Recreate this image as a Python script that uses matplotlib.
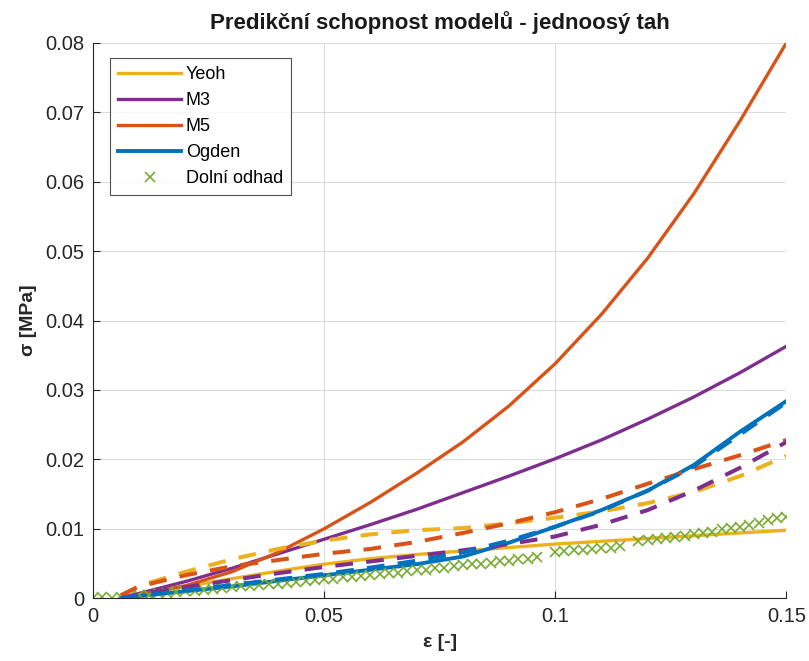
import matplotlib.pyplot as plt

plt.rcParams['font.family'] = ['Liberation Sans', 'DejaVu Sans']

# model curves, strain [-] vs stress [MPa]
eps = [0.006, 0.01, 0.02, 0.03, 0.04, 0.05, 0.06, 0.07, 0.08,
       0.09, 0.10, 0.11, 0.12, 0.13, 0.14, 0.15]

yeoh = [0, 0.0006, 0.0017, 0.0028, 0.0039, 0.0049, 0.0057, 0.0063, 0.0068,
        0.0073, 0.0078, 0.0082, 0.0086, 0.0090, 0.0094, 0.0098]
m3 = [0, 0.0007, 0.0024, 0.0043, 0.0064, 0.0085, 0.0106, 0.0128, 0.0152,
      0.0176, 0.0201, 0.0228, 0.0258, 0.0290, 0.0325, 0.0363]
m5 = [0, 0.0005, 0.0018, 0.0038, 0.0066, 0.0100, 0.0138, 0.0180, 0.0225,
      0.0277, 0.0338, 0.0409, 0.0490, 0.0583, 0.0688, 0.0800]
ogden = [0, 0.0003, 0.0010, 0.0017, 0.0025, 0.0033, 0.0041, 0.0049, 0.0060,
         0.0080, 0.0103, 0.0127, 0.0155, 0.0192, 0.0240, 0.0284]

# dashed = second parameter set
yeoh_d = [0.0004, 0.0018, 0.0038, 0.0056, 0.0071, 0.0083, 0.0092, 0.0098, 0.0101,
          0.0108, 0.0116, 0.0125, 0.0137, 0.0153, 0.0176, 0.0205]
m3_d = [0, 0.0006, 0.0016, 0.0026, 0.0036, 0.0045, 0.0053, 0.0061, 0.0069,
        0.0078, 0.0089, 0.0106, 0.0127, 0.0155, 0.0188, 0.0225]
m5_d = [0.0004, 0.0017, 0.0033, 0.0046, 0.0055, 0.0064, 0.0071, 0.0081, 0.0094,
        0.0108, 0.0124, 0.0143, 0.0165, 0.0186, 0.0206, 0.0228]
ogden_d = [0, 0.0003, 0.0011, 0.0019, 0.0027, 0.0035, 0.0044, 0.0054, 0.0066,
           0.0083, 0.0103, 0.0126, 0.0155, 0.0190, 0.0236, 0.0282]

# lower estimate (measured points)
est_x = [0.000, 0.002, 0.004, 0.006, 0.008, 0.010, 0.012, 0.014, 0.016, 0.018,
         0.020, 0.022, 0.024, 0.026, 0.028, 0.030, 0.032, 0.034, 0.036, 0.038,
         0.040, 0.042, 0.044, 0.046, 0.048, 0.050, 0.052, 0.054, 0.056, 0.058,
         0.060, 0.062, 0.064, 0.066, 0.068, 0.070, 0.072, 0.074, 0.076, 0.078,
         0.080, 0.082, 0.084, 0.086, 0.088, 0.090, 0.092, 0.094, 0.096,
         0.100, 0.102, 0.104, 0.106, 0.108, 0.110, 0.112, 0.114,
         0.118, 0.120, 0.122, 0.124, 0.126, 0.128, 0.130, 0.132, 0.134, 0.136,
         0.138, 0.140, 0.142, 0.144, 0.146, 0.148, 0.150]
est_y = [0.0000, 0.0002, 0.0001, 0.0002, 0.0003, 0.0004, 0.0005, 0.0007, 0.0007, 0.0009,
         0.0010, 0.0011, 0.0012, 0.0013, 0.0015, 0.0016, 0.0017, 0.0018, 0.0019, 0.0020,
         0.0021, 0.0022, 0.0024, 0.0025, 0.0026, 0.0027, 0.0028, 0.0030, 0.0031, 0.0032,
         0.0033, 0.0035, 0.0036, 0.0037, 0.0039, 0.0040, 0.0041, 0.0043, 0.0044, 0.0046,
         0.0048, 0.0049, 0.0050, 0.0051, 0.0053, 0.0054, 0.0056, 0.0057, 0.0059,
         0.0066, 0.0068, 0.0069, 0.0070, 0.0071, 0.0072, 0.0073, 0.0075,
         0.0082, 0.0084, 0.0086, 0.0087, 0.0088, 0.0090, 0.0092, 0.0094, 0.0096, 0.0099,
         0.0101, 0.0103, 0.0106, 0.0109, 0.0112, 0.0115, 0.0117]

c_yeoh = '#EDB120'
c_m3 = '#7E2F8E'
c_m5 = '#D95319'
c_ogden = '#0072BD'
c_est = '#77AC30'

fig = plt.figure(figsize=(8.09, 6.61), dpi=100)
ax = fig.add_axes([0.115, 0.095, 0.857, 0.84])

lw = 2.4
dash = (0, (4.4, 3.3))
ax.plot(eps, yeoh, color=c_yeoh, lw=lw, label='Yeoh')
ax.plot(eps, m3, color=c_m3, lw=lw, label='M3')
ax.plot(eps, m5, color=c_m5, lw=lw, label='M5')
ax.plot(eps, ogden, color=c_ogden, lw=lw + 0.4, label='Ogden')
ax.plot(est_x, est_y, 'x', color=c_est, ms=7.5, mew=1.2, label='Dolní odhad')
ax.plot(eps, yeoh_d, color=c_yeoh, lw=lw + 0.5, ls=dash)
ax.plot(eps, m5_d, color=c_m5, lw=lw + 0.5, ls=dash)
ax.plot(eps, m3_d, color=c_m3, lw=lw + 0.5, ls=dash)
ax.plot(eps, ogden_d, color=c_ogden, lw=lw + 0.5, ls=dash)

ax.set_xlim(0, 0.15)
ax.set_ylim(0, 0.08)
ax.set_xticks([0, 0.05, 0.1, 0.15])
ax.set_xticklabels(['0', '0.05', '0.1', '0.15'])
ax.set_yticks([0, 0.01, 0.02, 0.03, 0.04, 0.05, 0.06, 0.07, 0.08])
ax.set_yticklabels(['0', '0.01', '0.02', '0.03', '0.04', '0.05', '0.06', '0.07', '0.08'])
ax.grid(True, color='#dcdcdc', lw=0.8)
ax.set_axisbelow(True)
for s in ['top', 'right']:
    ax.spines[s].set_visible(False)
for s in ['left', 'bottom']:
    ax.spines[s].set_color('#262626')
ax.tick_params(direction='in', length=5, labelsize=14.5, colors='#262626', pad=6)

ax.set_xlabel('ε [-]', fontsize=14, fontweight='bold', color='#262626', labelpad=6)
ax.set_ylabel('σ [MPa]', fontsize=14, fontweight='bold', color='#262626', labelpad=6)
ax.set_title('Predikční schopnost modelů - jednoosý tah', fontsize=16,
             fontweight='bold', color='#1a1a1a', pad=10)

leg = ax.legend(loc='upper left', bbox_to_anchor=(0.0115, 0.989), fontsize=13,
                fancybox=False, edgecolor='#262626', handlelength=3.5,
                borderpad=0.45, labelspacing=0.5, handletextpad=0.25)
leg.get_frame().set_linewidth(0.8)

fig.savefig('out.png', dpi=100)
